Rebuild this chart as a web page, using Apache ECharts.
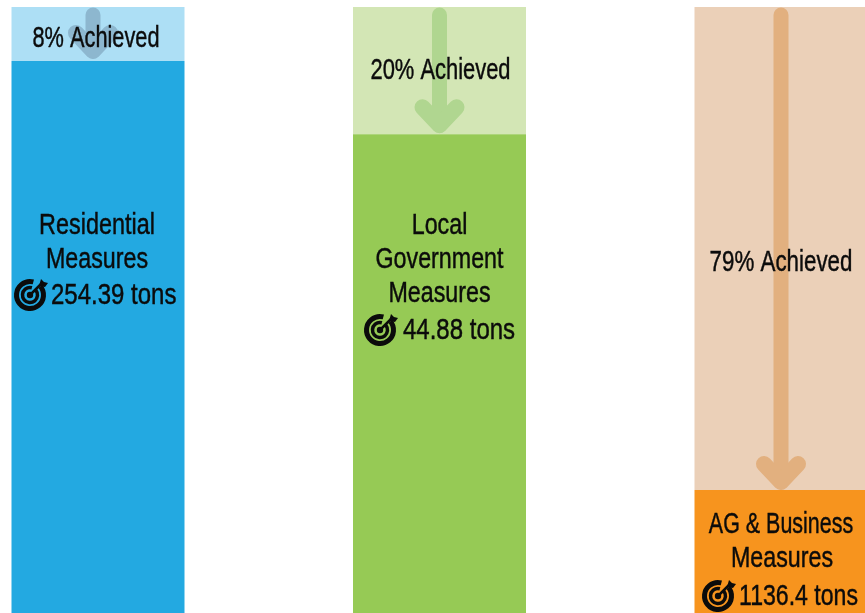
<!DOCTYPE html>
<html><head><meta charset="utf-8">
<style>html,body{margin:0;padding:0;background:#fff;overflow:hidden}#c{width:865px;height:613px}</style>
<script src="https://cdn.jsdelivr.net/npm/echarts@6/dist/echarts.min.js"></script>
</head><body><div id="c"></div>
<script>
const categories = ['Residential Measures', 'Local Government Measures', 'AG & Business Measures'];
const titleLines = [['Residential', 'Measures'], ['Local', 'Government', 'Measures'], ['AG & Business', 'Measures']];
const achievedLabels = ['8% Achieved', '20% Achieved', '79% Achieved'];
const targetLabels = ['254.39 tons', '44.88 tons', '1136.4 tons'];
// height of the pale band, in % of the visible column
const achievedDepth = [8.9, 21.0, 79.7];
const remaining = [91.1, 79.0, 20.3];

const paleColors = ['#ADDFF5', '#D3E6B5', '#EBD0B8'];
const solidColors = ['#23A9E1', '#96CA55', '#F7941E'];
const arrowColors = ['#8DB7CF', '#B0D690', '#E2B07F'];

// layout only (pixels)
const arrowDx = [-5, 0, 0];
const arrowTipGap = [5, 4, 3];
const achievedY = [39, 71, 263];
const achievedDx = [-2, 1, 0];
const titleY = [[226, 260], [226, 260, 294], [525, 559]];
const titleDx = [[-1, -1], [0, 0, 0], [0, 1]];
const targetY = [296, 331, 597];
const targetTextX = [51, 403, 739];
const iconX = [30, 380, 718];
const iconY = [295, 330, 596];
const FONT = '"Liberation Sans",sans-serif';
const TEXT = '#0b0b0b';
const achievedSqueeze = [0.725, 0.73, 0.745];
const titleSqueeze = [[0.78, 0.775], [0.775, 0.775, 0.775], [0.715, 0.775]];
const targetSqueeze = [0.8, 0.8, 0.77];

function txt(s, x, y, squeeze, align) {
  return {
    type: 'text', z2: 30, x, y, scaleX: squeeze, scaleY: 1,
    style: { text: s, x: 0, y: 0, fill: TEXT, stroke: TEXT, lineWidth: 0.45, font: '30px ' + FONT, textAlign: align || 'center', textVerticalAlign: 'middle' }
  };
}
function icon(cx, cy) {
  const ring = (r, lw) => ({ type: 'arc', z2: 30, shape: { cx, cy, r, startAngle: -Math.PI * 0.22, endAngle: -Math.PI * 0.42, clockwise: true }, style: { stroke: TEXT, fill: null, lineWidth: lw } });
  return [
    ring(13.5, 5), ring(7.5, 3.5),
    { type: 'circle', z2: 30, shape: { cx, cy, r: 3.2 }, style: { fill: TEXT } },
    { type: 'line', z2: 30, shape: { x1: cx, y1: cy, x2: cx + 13, y2: cy - 13 }, style: { stroke: TEXT, lineWidth: 2.5 } },
    { type: 'polygon', z2: 30, shape: { points: [[cx + 9, cy - 9], [cx + 11, cy - 16], [cx + 14, cy - 13], [cx + 18, cy - 12], [cx + 15, cy - 8]] }, style: { fill: TEXT } }
  ];
}

const chart = echarts.init(document.getElementById('c'));
chart.setOption({
  animation: false,
  grid: { left: -72.75, top: 7, width: 1024.5, height: 606, outerBoundsMode: 'none', containLabel: false },
  xAxis: { type: 'category', data: categories, show: false },
  yAxis: { type: 'value', min: 0, max: 100, inverse: true, show: false },
  series: [
    { name: 'Achieved', type: 'bar', stack: 'a', barWidth: 173, data: achievedDepth.map((v, i) => ({ value: v, itemStyle: { color: paleColors[i] } })) },
    { name: 'Remaining', type: 'bar', stack: 'a', barWidth: 173, data: remaining.map((v, i) => ({ value: v, itemStyle: { color: solidColors[i] } })) },
    {
      name: 'Overlay', type: 'custom', coordinateSystem: 'cartesian2d', clip: false, z: 10,
      data: achievedDepth.map((v, i) => [i, v]),
      renderItem(params, api) {
        const i = params.dataIndex;
        const p = api.coord([api.value(0), api.value(1)]);
        const top = api.coord([api.value(0), 0])[1];
        const x = p[0] + arrowDx[i], tip = p[1] - arrowTipGap[i] - 5;
        const arrow = { stroke: arrowColors[i], fill: arrowColors[i], lineWidth: 15, lineCap: 'round', lineJoin: 'round' };
        const children = [
          { type: 'line', shape: { x1: x, y1: top + 8, x2: x, y2: tip }, style: arrow },
          { type: 'polyline', shape: { points: [[x - 17, tip - 18], [x, tip], [x + 17, tip - 18]] }, style: { ...arrow, fill: null, lineWidth: 16 } },
          txt(achievedLabels[i], p[0] + achievedDx[i], achievedY[i], achievedSqueeze[i])
        ];
        titleLines[i].forEach((s, k) => children.push(txt(s, p[0] + titleDx[i][k], titleY[i][k], titleSqueeze[i][k])));
        children.push(txt(targetLabels[i], targetTextX[i], targetY[i], targetSqueeze[i], 'left'));
        children.push(...icon(iconX[i], iconY[i]));
        return { type: 'group', children };
      }
    }
  ]
});
</script></body></html>
